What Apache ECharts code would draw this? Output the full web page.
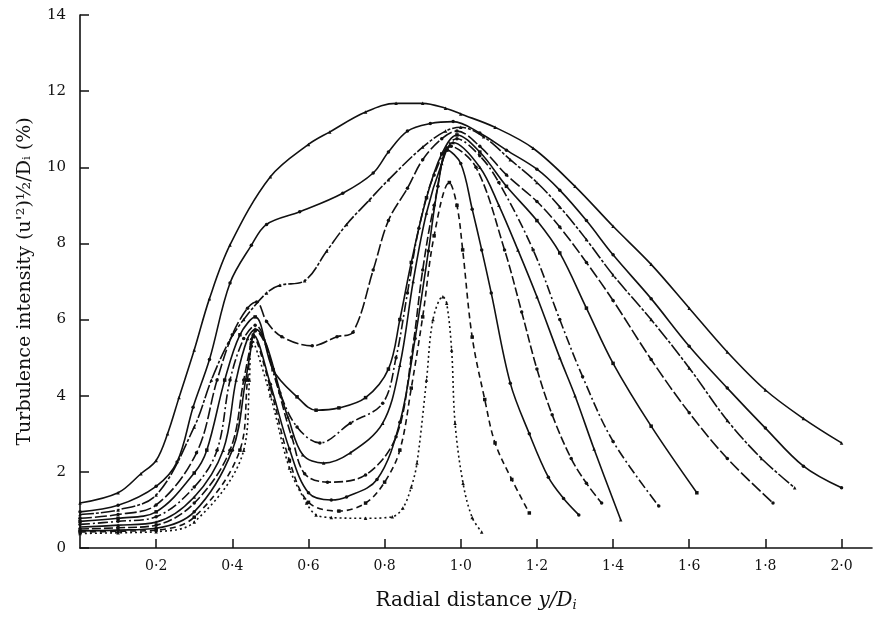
<!DOCTYPE html>
<html>
<head>
<meta charset="utf-8">
<script src="https://cdn.jsdelivr.net/npm/echarts@6/dist/echarts.min.js"></script>
<style>
html,body{margin:0;padding:0;background:#fff;}
#chart{width:875px;height:619px;}
</style>
</head>
<body>
<div id="chart"></div>
<script>
// Tick labels
const xTickValues = [0.2, 0.4, 0.6, 0.8, 1.0, 1.2, 1.4, 1.6, 1.8, 2.0];
const yTickValues = [0, 2, 4, 6, 8, 10, 12, 14];

// Curves: [radial distance y/Di, turbulence intensity %]
const curveA = [[0,1.18],[0.1,1.45],[0.16,1.95],[0.2,2.3],[0.23,3.0],[0.26,3.95],[0.3,5.2],[0.34,6.55],[0.394,7.96],[0.5,9.75],[0.6,10.6],[0.656,10.93],[0.75,11.45],[0.83,11.68],[0.9,11.68],[0.96,11.55],[1.0,11.4],[1.09,11.05],[1.19,10.5],[1.3,9.5],[1.4,8.45],[1.5,7.45],[1.6,6.3],[1.7,5.15],[1.8,4.15],[1.9,3.4],[2.0,2.76]];
const curveB = [[0,0.95],[0.1,1.12],[0.2,1.62],[0.255,2.26],[0.297,3.7],[0.34,4.95],[0.394,6.96],[0.45,7.95],[0.49,8.5],[0.577,8.83],[0.69,9.32],[0.77,9.85],[0.81,10.4],[0.86,10.95],[0.92,11.15],[0.98,11.2],[1.05,10.9],[1.12,10.45],[1.2,9.95],[1.26,9.4],[1.33,8.6],[1.4,7.7],[1.5,6.55],[1.6,5.3],[1.7,4.2],[1.8,3.15],[1.9,2.15],[2.0,1.58]];
const curveC = [[0,0.88],[0.1,1.0],[0.2,1.39],[0.3,3.18],[0.345,4.41],[0.39,5.4],[0.43,6.0],[0.49,6.7],[0.525,6.9],[0.59,7.02],[0.648,7.8],[0.7,8.5],[0.76,9.14],[0.81,9.67],[0.9,10.53],[0.96,10.95],[1.0,11.05],[1.06,10.8],[1.13,10.2],[1.2,9.6],[1.26,8.96],[1.33,8.1],[1.4,7.17],[1.5,6.0],[1.6,4.73],[1.7,3.35],[1.79,2.35],[1.877,1.58]];
const curveD = [[0,0.78],[0.1,0.88],[0.2,1.13],[0.306,2.5],[0.36,4.41],[0.4,5.6],[0.44,6.3],[0.464,6.46],[0.49,5.95],[0.53,5.55],[0.61,5.31],[0.675,5.55],[0.717,5.67],[0.77,7.3],[0.81,8.6],[0.86,9.45],[0.9,10.2],[0.95,10.75],[0.99,10.95],[1.05,10.55],[1.12,9.8],[1.2,9.1],[1.26,8.43],[1.33,7.5],[1.4,6.5],[1.5,4.95],[1.6,3.55],[1.7,2.35],[1.82,1.18]];
const curveE = [[0,0.7],[0.1,0.78],[0.2,0.95],[0.3,1.97],[0.333,2.57],[0.38,4.41],[0.42,5.6],[0.46,6.07],[0.507,4.68],[0.57,3.97],[0.62,3.62],[0.68,3.68],[0.75,3.95],[0.81,4.7],[0.84,6.0],[0.87,7.5],[0.91,9.2],[0.95,10.35],[0.99,10.85],[1.05,10.4],[1.12,9.5],[1.2,8.6],[1.26,7.75],[1.33,6.3],[1.4,4.85],[1.5,3.2],[1.62,1.45]];
const curveF = [[0,0.62],[0.1,0.7],[0.2,0.82],[0.3,1.6],[0.36,2.57],[0.394,4.41],[0.43,5.5],[0.46,5.85],[0.525,4.07],[0.57,3.18],[0.63,2.76],[0.71,3.28],[0.795,3.8],[0.83,5.0],[0.86,6.7],[0.89,8.4],[0.93,9.8],[0.99,10.75],[1.05,10.3],[1.1,9.6],[1.19,7.83],[1.26,6.0],[1.32,4.5],[1.4,2.8],[1.52,1.1]];
const curveG = [[0,0.55],[0.1,0.6],[0.2,0.68],[0.3,1.34],[0.376,2.57],[0.41,4.41],[0.44,5.5],[0.46,5.75],[0.546,3.44],[0.585,2.45],[0.64,2.23],[0.71,2.5],[0.795,3.28],[0.84,4.8],[0.875,7.0],[0.91,8.8],[0.95,10.1],[0.98,10.65],[1.05,10.0],[1.1,9.0],[1.15,7.83],[1.2,6.6],[1.26,5.0],[1.3,4.0],[1.35,2.6],[1.42,0.74]];
const curveH = [[0,0.5],[0.1,0.53],[0.2,0.6],[0.3,1.18],[0.394,2.57],[0.43,4.41],[0.45,5.4],[0.46,5.7],[0.556,2.92],[0.59,1.95],[0.65,1.73],[0.75,1.92],[0.83,2.92],[0.87,5.0],[0.9,7.3],[0.93,9.0],[0.975,10.55],[1.04,10.0],[1.115,7.83],[1.16,6.2],[1.2,4.7],[1.24,3.5],[1.29,2.35],[1.33,1.7],[1.37,1.18]];
const curveI = [[0,0.45],[0.1,0.47],[0.2,0.52],[0.3,0.95],[0.4,2.57],[0.435,4.41],[0.45,5.3],[0.455,5.6],[0.5,4.3],[0.55,2.6],[0.6,1.45],[0.66,1.26],[0.7,1.34],[0.78,1.8],[0.84,3.3],[0.88,5.5],[0.915,7.8],[0.94,9.5],[0.965,10.45],[1.0,10.1],[1.03,8.9],[1.055,7.83],[1.08,6.7],[1.13,4.33],[1.18,3.0],[1.23,1.86],[1.27,1.3],[1.31,0.87]];
const curveJ = [[0,0.42],[0.1,0.44],[0.2,0.47],[0.3,0.81],[0.42,2.57],[0.44,4.41],[0.455,5.55],[0.5,4.2],[0.55,2.3],[0.6,1.2],[0.68,0.97],[0.75,1.18],[0.8,1.73],[0.84,2.57],[0.87,4.2],[0.9,6.07],[0.93,8.2],[0.97,9.6],[0.99,9.0],[1.005,7.83],[1.03,5.54],[1.063,3.9],[1.09,2.76],[1.134,1.8],[1.18,0.92]];
const curveK = [[0,0.38],[0.1,0.4],[0.2,0.43],[0.3,0.68],[0.43,2.57],[0.445,4.41],[0.45,5.5],[0.5,4.0],[0.55,2.1],[0.595,1.18],[0.62,0.87],[0.66,0.8],[0.75,0.78],[0.82,0.82],[0.848,1.05],[0.87,1.6],[0.885,2.23],[0.91,4.41],[0.927,6.0],[0.953,6.6],[0.963,6.43],[0.976,5.2],[0.985,3.28],[1.006,1.7],[1.03,0.8],[1.055,0.42]];

const curves = [
  {name:'A', data:curveA, type:'solid', symbol:'triangle'},
  {name:'B', data:curveB, type:'solid', symbol:'circle'},
  {name:'C', data:curveC, type:[14,2,3,2], symbol:'triangle'},
  {name:'D', data:curveD, type:[12,3], symbol:'circle'},
  {name:'E', data:curveE, type:'solid', symbol:'rect'},
  {name:'F', data:curveF, type:[10,3,2,3], symbol:'circle'},
  {name:'G', data:curveG, type:'solid', symbol:'triangle'},
  {name:'H', data:curveH, type:[9,3], symbol:'circle'},
  {name:'I', data:curveI, type:'solid', symbol:'circle'},
  {name:'J', data:curveJ, type:[6,4], symbol:'rect'},
  {name:'K', data:curveK, type:[2,3], symbol:'triangle'}
];

const serif = 'DejaVu Serif';
const chart = echarts.init(document.getElementById('chart'), null, {renderer:'canvas'});
chart.setOption({
  backgroundColor:'#ffffff',
  animation:false,
  grid:{left:80, right:3, top:15, bottom:71},
  xAxis:{
    type:'value', min:0, max:2.08,
    name:'Radial distance {it|y/D}{sub|i}',
    nameLocation:'middle', nameGap:42,
    nameTextStyle:{fontFamily:serif, fontSize:20, color:'#111',
      rich:{it:{fontFamily:serif, fontStyle:'italic', fontSize:20, color:'#111'},
            sub:{fontFamily:serif, fontStyle:'italic', fontSize:13, color:'#111', verticalAlign:'bottom', padding:[9,0,0,0]}}},
    axisLine:{show:true, onZero:false, lineStyle:{color:'#111', width:1.6}},
    axisTick:{show:true, inside:true, length:9, customValues:xTickValues, lineStyle:{color:'#111', width:1.5}},
    axisLabel:{customValues:xTickValues, margin:11, fontFamily:serif, fontSize:14, color:'#111',
      formatter:function(v){return v.toFixed(1).replace('.', '\u00B7');}},
    splitLine:{show:false}
  },
  yAxis:{
    type:'value', min:0, max:14, interval:2,
    name:"Turbulence intensity (u'\u00B2)\u00BD/D\u1D62 (%)",
    nameLocation:'middle', nameGap:45,
    nameTextStyle:{fontFamily:serif, fontSize:19, color:'#111'},
    axisLine:{show:true, onZero:false, lineStyle:{color:'#111', width:1.6}},
    axisTick:{show:true, inside:true, length:9, customValues:yTickValues, lineStyle:{color:'#111', width:1.5}},
    axisLabel:{customValues:yTickValues, margin:14, fontFamily:serif, fontSize:15, color:'#111'},
    splitLine:{show:false}
  },
  series: curves.map(function(c){
    return {
      type:'line', name:c.name, data:c.data,
      smooth:0.35,
      showSymbol:true, symbol:c.symbol, symbolSize:3.5,
      itemStyle:{color:'#111'},
      lineStyle:{color:'#111', width:1.6, type:c.type},
      silent:true
    };
  })
});
</script>
</body>
</html>
